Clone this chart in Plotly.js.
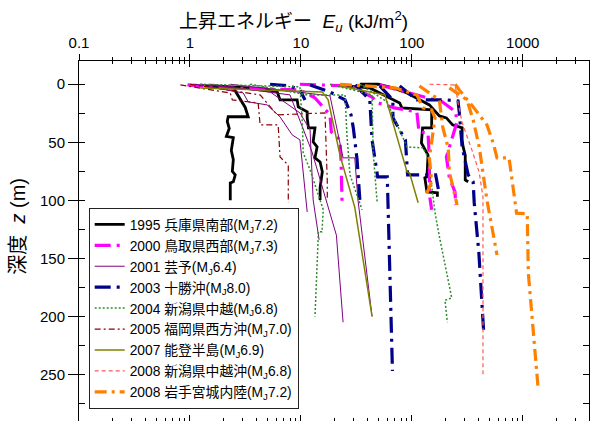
<!DOCTYPE html>
<html>
<head>
<meta charset="utf-8">
<script src="https://cdn.plot.ly/plotly-3.0.1.min.js"></script>
<style>
html,body{margin:0;padding:0;background:#fff;}
#chart{width:590px;height:421px;}
</style>
</head>
<body>
<div id="chart"></div>
<script>
// ---- data (E_u in kJ/m2, depth z in m; null separates individual profiles) ----
var names = [
  "1995 兵庫県南部(M<sub>J</sub>7.2)",
  "2000 鳥取県西部(M<sub>J</sub>7.3)",
  "2001 芸予(M<sub>J</sub>6.4)",
  "2003 十勝沖(M<sub>J</sub>8.0)",
  "2004 新潟県中越(M<sub>J</sub>6.8)",
  "2005 福岡県西方沖(M<sub>J</sub>7.0)",
  "2007 能登半島(M<sub>J</sub>6.9)",
  "2008 新潟県中越沖(M<sub>J</sub>6.8)",
  "2008 岩手宮城内陸(M<sub>J</sub>7.2)"
];

var e1995 = [1.37,2.46,3.15,3.35,2.21,2.17,2.26,2.13,2.46,2.36,2.46,2.41,2.56,2.46,2.31,2.31, null,
             1.69,4.76,6.12,6.49,9.25,9.47,11.4,11.4,11.7,13.4,12.9,14.0,13.4,14.9,15.6,14.9,14.9, null,
             34,49.7,67.5,90.5,144,177,205,233,284,284,290,303,303,322, null,
             25,41.8,63.2,77.7,81.3,151,151,125,122,140,137,131,137,170,170];
var z1995 = [1.5,3,20,28,28,32,38,45,46,57,65,75,78,84,85,100, null,
             1.5,4,6.6,13.5,13.5,19.5,23.8,29,37.6,37.6,49.7,54,63.4,66.9,75.4,89,99.6, null,
             0,0,3.2,7.5,17.8,27.3,29,35,37.6,47.9,54,61,82.4,84, null,
             1.5,3.2,11.8,16.1,20.4,22.1,37.6,37.6,50.6,61,79.8,80.6,92.7,93.5,97];

var e2000 = [0.95,2.08,9.8,13.4,18.3,18.8,22.5,23,23.5, null,
             9.8,27.7,43.8,49.2,69.7,111,116,140,144,144,151, null,
             51.4,189,249,254,205,209,218,245,249];
var z2000 = [0.6,3.2,4.9,11.8,26.4,41,48,65,101, null,
             0,1.5,11,16,20.4,23.8,41,42,65,95,108, null,
             0.6,15.2,23.8,33.3,62.6,67.7,80.6,92.7,104];

var e2001 = [1.12,3.02,3.35,4.96,6.49,8.34,9.8,11.4, null,
             1.24,5.28,9.8,12.1,12.9,14.6, null,
             1.52,7.98,12.6,20.9,24.0, null,
             2.31,18.3,24.0,30.6,32.7,43.8];
var z2001 = [0,7.5,15.2,17.8,28.1,43.6,47.9,110, null,
             0,6.6,24.7,39.3,99.6,134, null,
             0,9.2,58.3,130,205, null,
             0,10,63.4,63.4,99.6,200];

var e2003 = [5.28,7.98,9.8,10.9, null,
             12.1,18.3,25,28.3,29.7,32.1,34, null,
             30.9,41.8,43.8,49.2,60.1,61.5,66.9, null,
             51.4,67.5,67.5,87.5,91.6,164,177, null,
             77.7,111,205,261,268,284,322,357,365,402,444];
var z2003 = [0,1.5,4.9,13.5, null,
             0.6,6.6,13.5,26.4,37.6,65,99.6, null,
             0.6,13.5,47.9,79.8,79.8,112.5,247, null,
             1.5,13.5,29,47.9,78,78,95, null,
             1.5,13.5,13.5,14.4,24.7,54,78,84,102,145,213];

var e2004 = [1.24,9.8,10.3,10.5,12.1,15.9,15.5,14.4,13.4, null,
             3.49,11.4,17.3,25,26,27.7,35.6, null,
             18.3,43.8,44.8,48.6, null,
             34,59.8,90.5,126,140,162,177,229,199,209];
var z2004 = [0,2.3,32.5,59,73.8,108,127,127,200, null,
             0,9.2,9.2,9.2,43.6,78,108, null,
             0,9.2,58.3,101, null,
             0,15.2,54,54.8,62.6,110.8,131,184,186,205];

var e2005 = [0.82,2.31,2.41,4.12,4.29,6.24,6.49,7.7,7.7, null,
             1.0,4.29,6.12,16.5,17.3,17.3];
var z2005 = [0.6,7.5,13.5,16.1,35,35,62.7,69.6,102, null,
             0,9.2,26.4,24.7,84,99.6];

var e2007 = [1.24,15.6,17.6,22.5,30.6,43.8, null,
             22.5,57.2,90.5,95.5,114];
var z2007 = [3.2,6.6,13.5,61,106,200, null,
             1.5,9.2,75.5,76.4,102];

var e2008a = [144,246,261,284,349,405,438,438];
var z2008a = [0,0.6,16,33,57,76,97,250];

var e2008b = [22.5,70.6,111,126,151,162,144,151,135, null,
              117,177,190,213,218,234,256, null,
              218,314,357,405,475,586, null,
              246,268,357,475,541,586,752,879,1097,1122,1370];
var z2008b = [0,3.2,9.2,20.4,22,29,63.4,84,95, null,
              1.5,13.5,37,55,75.5,89,104, null,
              3.2,13.5,30.7,54,99.6,147, null,
              0,4.9,19.5,35,50.6,63.4,63.4,111,111.5,162.5,260];

var xTickVals = [0.1,1,10,100,1000];
var xTickText = ["0.1","1","10","100","1000"];
var yTickVals = [0,50,100,150,200,250];

// ---- styling ----
var seriesE = [e1995,e2000,e2001,e2003,e2004,e2005,e2007,e2008a,e2008b];
var seriesZ = [z1995,z2000,z2001,z2003,z2004,z2005,z2007,z2008a,z2008b];
var lineStyles = [
  {color:"#000000", width:2.8, dash:"solid"},
  {color:"#FF00FF", width:3.2, dash:"16px,6px,3px,6px"},
  {color:"#800080", width:1, dash:"solid"},
  {color:"#00008B", width:3.2, dash:"16px,6px,3px,6px"},
  {color:"#2E8B2E", width:1.5, dash:"2px,2px"},
  {color:"#8B0000", width:1.2, dash:"6px,3px,2px,3px"},
  {color:"#808000", width:1.5, dash:"solid"},
  {color:"#FF5A5A", width:1.2, dash:"4px,3px"},
  {color:"#FF8000", width:3.2, dash:"12px,5px,3px,5px"}
];

var minorX = [];
[0.1,1,10,100,1000].forEach(function(d){
  for (var k=2;k<=9;k++){ var v=d*k; if (v<3950) minorX.push(v); }
});

var traces = [];
for (var i=0;i<names.length;i++){
  traces.push({
    type:"scatter", mode:"lines", name:names[i],
    x:seriesE[i], y:seriesZ[i], connectgaps:false,
    line:lineStyles[i], hoverinfo:"skip"
  });
}
// dummy trace to carry the overlay tick axes
traces.push({type:"scatter", mode:"markers", x:[1], y:[0], xaxis:"x2", yaxis:"y2",
  marker:{opacity:0}, showlegend:false, hoverinfo:"skip"});

var FONT = "Liberation Sans, Arial, 'Noto Sans CJK JP', sans-serif";
var XR = [-1, 3.597], YR = [290, -20];

var layout = {
  width:590, height:421,
  margin:{l:79, r:1, t:61, b:0, pad:0},
  paper_bgcolor:"#fff", plot_bgcolor:"#fff",
  font:{family:FONT, size:15, color:"#000"},
  showlegend:true,
  legend:{x:0.019, y:0.592, xanchor:"left", yanchor:"top",
    bgcolor:"#fff", bordercolor:"#222", borderwidth:1,
    font:{family:FONT, size:13.8, color:"#000"}, tracegroupgap:0},
  xaxis:{type:"log", range:XR, side:"top", autorange:false,
    tickmode:"array", tickvals:xTickVals, ticktext:xTickText,
    ticks:"outside", ticklen:6, tickwidth:1, tickcolor:"#000",
    showline:true, linecolor:"#000", linewidth:1, mirror:false,
    showgrid:false, zeroline:false, tickfont:{size:15},
    minor:{tickmode:"array", tickvals:minorX, ticks:"outside", ticklen:3, tickcolor:"#000", showgrid:false}},
  xaxis2:{type:"log", range:XR, overlaying:"x", anchor:"y2", side:"top", autorange:false,
    tickmode:"array", tickvals:xTickVals, showticklabels:false,
    ticks:"inside", ticklen:6, tickwidth:1, tickcolor:"#000",
    showline:true, linecolor:"#000", linewidth:1, mirror:"allticks",
    showgrid:false, zeroline:false,
    minor:{tickmode:"array", tickvals:minorX, ticks:"inside", ticklen:3, tickcolor:"#000", showgrid:false}},
  yaxis:{range:YR, autorange:false, tickmode:"array", tickvals:yTickVals,
    ticks:"outside", ticklen:10, tickwidth:1, tickcolor:"#000",
    showline:true, linecolor:"#000", linewidth:1, mirror:false,
    showgrid:false, zeroline:false, tickfont:{size:15}},
  yaxis2:{range:YR, autorange:false, overlaying:"y", anchor:"x2", side:"left",
    tickmode:"linear", tick0:0, dtick:25, showticklabels:false,
    ticks:"inside", ticklen:6, tickwidth:1, tickcolor:"#000",
    showline:true, linecolor:"#000", linewidth:1, mirror:"allticks",
    showgrid:false, zeroline:false},
  annotations:[
    {text:"上昇エネルギー  <i>E</i><sub><i>u</i></sub> (kJ/m<sup>2</sup>)",
     xref:"paper", yref:"paper", x:0.42, y:1.111, xanchor:"center", yanchor:"middle",
     showarrow:false, font:{family:FONT, size:19, color:"#000"}},
    {text:"深度  <i>z</i> (m)", textangle:-90,
     xref:"paper", yref:"paper", x:-0.12, y:0.542, xanchor:"center", yanchor:"middle",
     showarrow:false, font:{family:FONT, size:20, color:"#000"}}
  ]
};

Plotly.newPlot("chart", traces, layout, {displayModeBar:false, staticPlot:true});
</script>
</body>
</html>
